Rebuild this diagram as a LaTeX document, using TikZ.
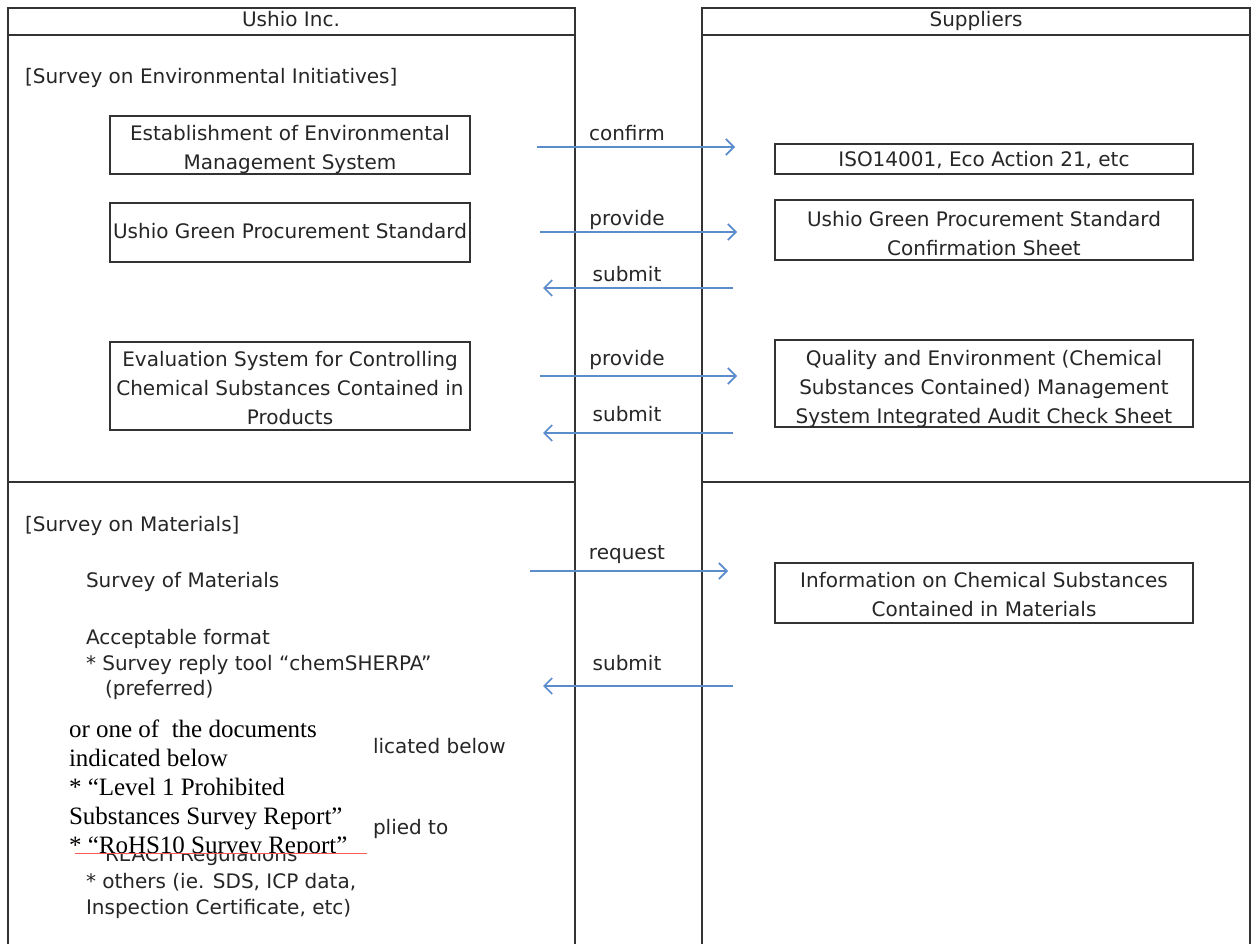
\documentclass[tikz,border=0pt]{standalone}
\usepackage{fontspec}
\setmainfont{DejaVu Sans}
\newfontfamily\overlayserif{Liberation Serif}
\usetikzlibrary{arrows.meta}
\definecolor{arrowblue}{HTML}{5B8CCB}
\definecolor{framegray}{HTML}{333333}
\begin{document}
\begin{tikzpicture}[x=0.75pt,y=-0.75pt,
  every node/.style={inner sep=0pt, outer sep=0pt},
  sans/.style={font=\fontsize{15}{21.75}\selectfont, text=black!85},
  frameline/.style={draw=framegray, line width=1.2pt},
  framebox/.style={draw=framegray, line width=1.1pt, minimum width=#1},
  leftbox/.style={framebox=270pt},
  rightbox/.style={framebox=313.5pt},
  boxtext/.style={sans, align=center, anchor=north},
  boxline/.style={sans, anchor=base},
  flow/.style={draw=arrowblue, line width=1.3pt, -{Straight Barb[length=6pt,width=12pt,line width=1.3pt]}},
  lab/.style={sans, anchor=base},
  ltext/.style={sans, anchor=base west},
  serifline/.style={font=\overlayserif\fontsize{18.75}{21.75}\selectfont, anchor=base west},
]
\useasboundingbox (0,0) rectangle (1253,944);
\fill[white] (0,0) rectangle (1253,944);

% frames
\draw[frameline] (8,960) -- (8,8) -- (575,8) -- (575,960);
\draw[frameline] (8,35) -- (575,35);
\draw[frameline] (8,482) -- (575,482);
\draw[frameline] (702,960) -- (702,8) -- (1250,8) -- (1250,960);
\draw[frameline] (702,35) -- (1250,35);
\draw[frameline] (702,482) -- (1250,482);

\node[lab] (ushio) at (291,27) {Ushio Inc.};
\node[lab] (suppliers) at (976,27) {Suppliers};

\node[ltext] (secenv) at (25,84) {[Survey on Environmental Initiatives]};

% left boxes
\node[leftbox, minimum height=43.5pt] (emsbox) at (290,145) {};
\node[boxtext] (ems) at (290,125) {Establishment of Environmental\\Management System};
\node[leftbox, minimum height=44.25pt] (ugpsbox) at (290,232.5) {};
\node[boxline] (ugps) at (290,239) {Ushio Green Procurement Standard};
\node[leftbox, minimum height=66pt] (evalbox) at (290,386) {};
\node[boxtext] (eval) at (290,351) {Evaluation System for Controlling\\Chemical Substances Contained in\\Products};

% right boxes
\node[rightbox, minimum height=22.5pt] (isobox) at (984,159) {};
\node[boxline] (iso) at (984,167) {ISO14001, Eco Action 21, etc};
\node[rightbox, minimum height=45pt] (sheetbox) at (984,230) {};
\node[boxtext] (sheet) at (984,211) {Ushio Green Procurement Standard\\Confirmation Sheet};
\node[rightbox, minimum height=65.25pt] (auditbox) at (984,383.5) {};
\node[boxtext] (audit) at (984,350) {Quality and Environment (Chemical\\Substances Contained) Management\\System Integrated Audit Check Sheet};
\node[rightbox, minimum height=45pt] (infobox) at (984,593) {};
\node[boxtext] (info) at (984,572) {Information on Chemical Substances\\Contained in Materials};

% arrow end points
\coordinate (a1s) at (537,147); \coordinate (a1e) at (735,147);
\coordinate (a2s) at (540,232); \coordinate (a2e) at (737,232);
\coordinate (a3s) at (733,288); \coordinate (a3e) at (543,288);
\coordinate (a4s) at (540,376); \coordinate (a4e) at (737,376);
\coordinate (a5s) at (733,433); \coordinate (a5e) at (543,433);
\coordinate (a6s) at (530,571); \coordinate (a6e) at (728,571);
\coordinate (a7s) at (733,686); \coordinate (a7e) at (543,686);

\draw[flow] (a1s) -- (a1e);
\draw[flow] (a2s) -- (a2e);
\draw[flow] (a3s) -- (a3e);
\draw[flow] (a4s) -- (a4e);
\draw[flow] (a5s) -- (a5e);
\draw[flow] (a6s) -- (a6e);
\draw[flow] (a7s) -- (a7e);

\node[lab] (l1) at (627,141) {confirm};
\node[lab] (l2) at (627,226) {provide};
\node[lab] (l3) at (627,282) {submit};
\node[lab] (l4) at (627,366) {provide};
\node[lab] (l5) at (627,422) {submit};
\node[lab] (l6) at (627,560) {request};
\node[lab] (l7) at (627,670) {submit};

% materials section
\node[ltext] (secmat) at (25,532) {[Survey on Materials]};
\node[ltext] (som) at (86,587) {Survey of Materials};
\node[ltext] (acc) at (86,644) {Acceptable format};
\node[ltext] (tool) at (86,670) {* Survey reply tool “chemSHERPA”};
\node[ltext] (pref) at (105,695) {(preferred)};
\node[ltext] (licated) at (373,753) {licated below};
\node[ltext] (plied) at (373,834) {plied to};
\node[ltext] (reach) at (105,861) {REACH Regulations};
\node[ltext] (others) at (86,888) {* others (ie. SDS, ICP data,};
\node[ltext] (insp) at (86,914) {Inspection Certificate, etc)};

% overlay
\fill[white] (66,716) rectangle (371,853);
\begin{scope}
\clip (66,716) rectangle (371,853);
\node[serifline] (o1) at (69,737) {or one of\ \ the documents};
\node[serifline] (o2) at (69,766) {indicated below};
\node[serifline] (o3) at (69,795) {* “Level 1 Prohibited};
\node[serifline] (o4) at (69,824) {Substances Survey Report”};
\node[serifline] (o5) at (69,853) {* “RoHS10 Survey Report”};
\end{scope}
\draw[red!65, line width=0.6pt] (75,853) -- (367,853);
\end{tikzpicture}
\end{document}
